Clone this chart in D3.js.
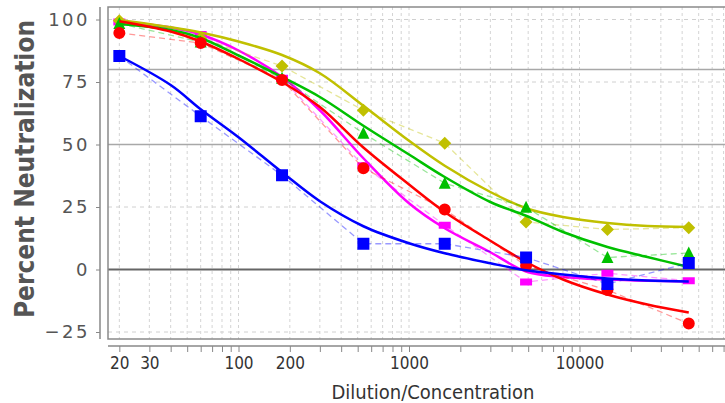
<!DOCTYPE html>
<html lang="en">
<head>
    <meta charset="UTF-8">
    <title>Percent Neutralization</title>
    <script src="https://d3js.org/d3.v7.min.js"></script>
    <style>
        body { margin: 0; background: #fff; }
        svg { display: block; }
    </style>
</head>
<body>
    <svg width="725" height="403"></svg>

    <script>
        // Dilutions where the points were measured
        const dilutions = [20, 60, 180, 540, 1620, 4860, 14580, 43740];

        // Measured values, one array per sample
        const bluePoints    = [85.4, 61.3, 37.7, 10.3, 10.3, 4.8, -5.8, 2.6];
        const redPoints     = [94.6, 90.6, 75.8, 40.5, 24.0, 1.5, -8.2, -21.6];
        const greenPoints   = [98.4, 91.0, 76.5, 54.5, 34.5, 24.9, 4.8, 6.6];
        const yellowPoints  = [99.5, 92.5, 81.4, 63.7, 50.5, 19.0, 16.0, 16.7];
        const magentaPoints = [99.0, 94.0, 76.5, 41.5, 17.7, -5.0, -1.5, -4.5];

        // Fitted curves at these dilutions
        const curveDilutions = [20, 40, 60, 100, 180, 300, 540, 1000, 1620, 3000, 4860, 8000, 14580, 25000, 43740];
        const blueCurve    = [85.4, 73.8, 64.1, 52.9, 38.9, 27.3, 17.3, 10.5, 6.5, 2.5, -0.3, -2.0, -3.6, -4.4, -4.8];
        const redCurve     = [99.3, 95.2, 91.2, 84.2, 75.0, 65.0, 48.8, 34.0, 23.0, 11.5, 3.0, -4.0, -10.0, -14.0, -17.2];
        const greenCurve   = [98.2, 95.8, 92.6, 85.6, 77.0, 69.0, 57.5, 46.0, 37.0, 27.0, 21.5, 15.0, 9.0, 5.0, 1.0];
        const yellowCurve  = [99.8, 96.9, 94.8, 91.2, 85.8, 78.5, 65.5, 51.5, 41.5, 31.0, 24.5, 21.0, 18.6, 17.4, 17.0];
        const magentaCurve = [99.2, 96.8, 94.0, 87.6, 77.0, 63.7, 44.5, 26.5, 16.5, 6.9, -0.8, -3.0, -4.0, -4.5, -4.8];

        // Axis ticks
        const yTicks = [100, 75, 50, 25, 0, -25];
        const xLabels = [20, 30, 100, 200, 1000, 10000];
        const refLines = [80, 50];

        // Drawn back to front (the first series ends on top)
        const series = [
            { name: "Sample 5", color: "#ff00ff", shape: "rect",     points: magentaPoints, curve: magentaCurve },
            { name: "Sample 4", color: "#c0c000", shape: "diamond",  points: yellowPoints,  curve: yellowCurve },
            { name: "Sample 3", color: "#00c000", shape: "triangle", points: greenPoints,   curve: greenCurve },
            { name: "Sample 2", color: "#ff0000", shape: "circle",   points: redPoints,     curve: redCurve },
            { name: "Sample 1", color: "#0000ff", shape: "square",   points: bluePoints,    curve: blueCurve }
        ];

        const svg = d3.select("svg");

        const plot = { left: 108, top: 7, right: 727, bottom: 339 };

        const x = d3.scaleLog()
            .domain([17.16, 73300])
            .range([plot.left, plot.right]);

        const y = d3.scaleLinear()
            .domain([-27.8, 105.0])
            .range([plot.bottom, plot.top]);

        // every 1..9 x 10^k inside the domain
        const minorTicks = [];
        for (let p = 1; p <= 4; p++) {
            for (let m = 1; m <= 9; m++) {
                const v = m * Math.pow(10, p);
                if (v >= x.domain()[0] && v <= x.domain()[1]) minorTicks.push(v);
            }
        }

        svg.append("clipPath").attr("id", "clip")
            .append("rect")
            .attr("x", plot.left).attr("y", plot.top)
            .attr("width", plot.right - plot.left)
            .attr("height", plot.bottom - plot.top);

        // grid
        const grid = svg.append("g");
        grid.selectAll("line.vgrid")
            .data(minorTicks)
            .enter().append("line")
            .attr("x1", d => x(d)).attr("x2", d => x(d))
            .attr("y1", plot.top).attr("y2", plot.bottom)
            .attr("stroke", "#d4d4d4")
            .attr("stroke-dasharray", "3,3");

        grid.selectAll("line.hgrid")
            .data(yTicks)
            .enter().append("line")
            .attr("x1", plot.left).attr("x2", plot.right)
            .attr("y1", d => y(d)).attr("y2", d => y(d))
            .attr("stroke", "#d0d0d0")
            .attr("stroke-dasharray", "4,4");

        grid.selectAll("line.ref")
            .data(refLines)
            .enter().append("line")
            .attr("x1", plot.left).attr("x2", plot.right)
            .attr("y1", d => y(d)).attr("y2", d => y(d))
            .attr("stroke", "#a8a8a8")
            .attr("stroke-width", 1.5);

        grid.append("line")
            .attr("x1", plot.left).attr("x2", plot.right)
            .attr("y1", y(0)).attr("y2", y(0))
            .attr("stroke", "#666")
            .attr("stroke-width", 2);

        // plot outline
        svg.append("path")
            .attr("d", `M${plot.right},${plot.top}H${plot.left}V${plot.bottom}H${plot.right}`)
            .attr("fill", "none")
            .attr("stroke", "#8a8a8a")
            .attr("stroke-width", 1.5);

        // series
        const shapePath = {
            square:   "M-6,-6H6V6H-6Z",
            rect:     "M-6,-3.5H6V3.5H-6Z",
            circle:   d3.symbol(d3.symbolCircle, 113)(),
            triangle: "M0,-6.5L6,5.5H-6Z",
            diamond:  "M0,-6.5L6.5,0L0,6.5L-6.5,0Z"
        };

        const pointLine = d3.line()
            .x((d, i) => x(dilutions[i]))
            .y(d => y(d));

        const curveLine = d3.line()
            .x((d, i) => x(curveDilutions[i]))
            .y(d => y(d))
            .curve(d3.curveCatmullRom.alpha(0.5));

        const data = svg.append("g").attr("clip-path", "url(#clip)");

        series.forEach(s => {
            const g = data.append("g");
            g.append("path")
                .attr("d", pointLine(s.points))
                .attr("fill", "none")
                .attr("stroke", s.color)
                .attr("stroke-opacity", 0.4)
                .attr("stroke-width", 1.3)
                .attr("stroke-dasharray", "6,4");

            g.append("path")
                .attr("d", curveLine(s.curve))
                .attr("fill", "none")
                .attr("stroke", s.color)
                .attr("stroke-width", 2.5);

            g.selectAll("path.mark")
                .data(s.points)
                .enter().append("path")
                .attr("class", "mark")
                .attr("transform", (d, i) => `translate(${x(dilutions[i])},${y(d)})`)
                .attr("d", shapePath[s.shape])
                .attr("fill", s.color);
        });

        // x axis
        const xAxis = d3.axisBottom(x)
            .tickValues(minorTicks)
            .tickFormat(d => xLabels.includes(d) ? String(d) : "")
            .tickSize(6)
            .tickPadding(5);

        const gx = svg.append("g")
            .attr("transform", "translate(0,346)")
            .call(xAxis);
        gx.select(".domain")
            .attr("d", `M${plot.left},0H${plot.right}`)
            .attr("stroke", "#888")
            .attr("stroke-width", 1.5);
        gx.selectAll(".tick line").attr("stroke", "#888");
        gx.selectAll(".tick text")
            .attr("fill", "#333")
            .style("font-family", "'DejaVu Sans Condensed', 'DejaVu Sans', sans-serif")
            .style("font-size", "17px");

        // y axis
        const yAxis = d3.axisLeft(y)
            .tickValues(yTicks)
            .tickSize(4)
            .tickPadding(6);

        const gy = svg.append("g")
            .attr("transform", "translate(100,0)")
            .call(yAxis);
        gy.select(".domain")
            .attr("d", `M0,${plot.top}V${plot.bottom}`)
            .attr("stroke", "#888")
            .attr("stroke-width", 1.5);
        gy.selectAll(".tick line").attr("stroke", "#888");
        gy.selectAll(".tick text")
            .attr("fill", "#555")
            .style("font-family", "'DejaVu Sans', sans-serif")
            .style("font-size", "18px")
            .style("letter-spacing", "2.5px");

        // titles
        svg.append("text")
            .attr("x", 433).attr("y", 399)
            .attr("text-anchor", "middle")
            .attr("fill", "#333")
            .style("font-family", "'DejaVu Sans Condensed', 'DejaVu Sans', sans-serif")
            .style("font-size", "20px")
            .text("Dilution/Concentration");

        svg.append("text")
            .attr("transform", "translate(34,169) rotate(-90)")
            .attr("text-anchor", "middle")
            .attr("fill", "#555")
            .style("font-family", "'DejaVu Sans Condensed', 'DejaVu Sans', sans-serif")
            .style("font-weight", "bold")
            .style("font-size", "26px")
            .text("Percent Neutralization");
    </script>
</body>
</html>
